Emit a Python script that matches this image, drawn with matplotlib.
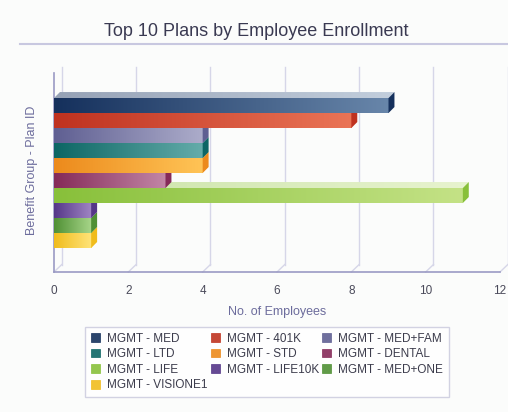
import numpy as np
import matplotlib.pyplot as plt
from matplotlib.colors import LinearSegmentedColormap, to_rgb
from matplotlib.patches import Polygon, Patch
from matplotlib.lines import Line2D

plt.rcParams['font.family'] = ['Liberation Sans', 'DejaVu Sans']

plans = ["MGMT - MED", "MGMT - 401K", "MGMT - MED+FAM", "MGMT - LTD", "MGMT - STD",
         "MGMT - DENTAL", "MGMT - LIFE", "MGMT - LIFE10K", "MGMT - MED+ONE", "MGMT - VISIONE1"]
counts = [9, 8, 4, 4, 4, 3, 11, 1, 1, 1]
dark_colors = ["#15305c", "#bf3220", "#5f5f92", "#0c6664", "#ec8a1c",
               "#852a58", "#88c03a", "#553688", "#4f9034", "#f0bc1c"]
light_colors = ["#6886aa", "#ea7456", "#acacca", "#64acaa", "#ffc456",
                "#c286a6", "#c4e286", "#a086c4", "#a8d68a", "#ffe47a"]
xticks = [0, 2, 4, 6, 8, 10, 12]


def blend(c, amt):
    r = np.array(to_rgb(c))
    return tuple(r + (1 - r) * amt)


fig = plt.figure(figsize=(5.08, 4.12), dpi=100, facecolor="#fbfcfb")
ax = fig.add_axes([54 / 508, 140 / 412, 446 / 508, 205 / 412])
ax.set_facecolor("none")
y_lo, y_hi = 11.1, -2.57
ax.set_xlim(0, 12)
ax.set_ylim(y_lo, y_hi)
for s in ax.spines.values():
    s.set_visible(False)

# back wall grid + floor
dxw, dyw = 0.21, 0.5
for t in xticks:
    ax.plot([t + dxw, t + dxw], [y_lo - dyw, y_hi], color="#d6d6e8", lw=1, zorder=1, clip_on=False)
    ax.plot([t, t + dxw], [y_lo, y_lo - dyw], color="#d6d6e8", lw=1, zorder=1, clip_on=False)
ax.plot([0, 12], [y_lo, y_lo], color="#9a9ac4", lw=1.2, zorder=2, clip_on=False)
ax.plot([0, 0], [y_lo, y_hi + 0.4], color="#9a9ac4", lw=1.2, zorder=2, clip_on=False)

# bars with a bit of depth
dx, dy = 0.16, 0.4
grad = np.linspace(0, 1, 256).reshape(1, -1)
n = len(counts)
for i in reversed(range(n)):
    v = counts[i]
    top, bot = i - 0.5, i + 0.5
    z = 10 + (n - i) * 3
    cmap = LinearSegmentedColormap.from_list("c%d" % i, [dark_colors[i], light_colors[i]])
    ax.imshow(grad, cmap=cmap, extent=[0, v, bot, top], aspect="auto",
              interpolation="bilinear", zorder=z)
    cmap_top = LinearSegmentedColormap.from_list("t%d" % i, [blend(dark_colors[i], 0.55),
                                                             blend(light_colors[i], 0.6)])
    face = Polygon([(0, top), (v, top), (v + dx, top - dy), (dx, top - dy)],
                   closed=True, facecolor="none", edgecolor="none")
    ax.add_patch(face)
    im = ax.imshow(grad, cmap=cmap_top, extent=[0, v + dx, top, top - dy], aspect="auto",
                   interpolation="bilinear", zorder=z)
    im.set_clip_path(face)
    ax.add_patch(Polygon([(v, top), (v + dx, top - dy), (v + dx, bot - dy), (v, bot)],
                         closed=True, facecolor=dark_colors[i], edgecolor="none", zorder=z + 1))

ax.set_xlim(0, 12)
ax.set_ylim(y_lo, y_hi)
ax.set_xticks(xticks)
ax.set_yticks([])
ax.tick_params(axis="x", length=0, labelsize=8.5, labelcolor="#4a4a5a", pad=9)

fig.text(277 / 508, 1 - 312 / 412, "No. of Employees", ha="center", va="center",
         fontsize=9, color="#6c6c9c")
fig.text(32 / 508, 1 - 170 / 412, "Benefit Group - Plan ID", ha="center", va="center",
         rotation=90, fontsize=9, color="#6c6c9c")
fig.text(256 / 508, 1 - 31 / 412, "Top 10 Plans by Employee Enrollment", ha="center",
         va="center", fontsize=13, color="#3a3a52")
fig.add_artist(Line2D([20 / 508, 1], [1 - 44 / 412, 1 - 44 / 412], color="#c8c8e0", lw=1.5))

order = [0, 3, 6, 9, 1, 4, 7, 2, 5, 8]
handles = [Patch(facecolor=blend(dark_colors[k], 0.1), edgecolor=dark_colors[k], lw=0.5)
           for k in order]
labels = [plans[k] for k in order]
leg = fig.legend(handles, labels, loc="center", bbox_to_anchor=(267 / 508, 1 - 362 / 412),
                 ncol=3, fontsize=8.5, frameon=True, fancybox=False, columnspacing=0.3,
                 handlelength=0.75, handleheight=0.75, handletextpad=0.6, labelspacing=0.3,
                 borderpad=0.5)
leg.get_frame().set_edgecolor("#c8c8dc")
leg.get_frame().set_facecolor("white")
leg.get_frame().set_linewidth(1)
for t in leg.get_texts():
    t.set_color("#3c3c4c")

fig.savefig("out.png", dpi=100, facecolor=fig.get_facecolor())
